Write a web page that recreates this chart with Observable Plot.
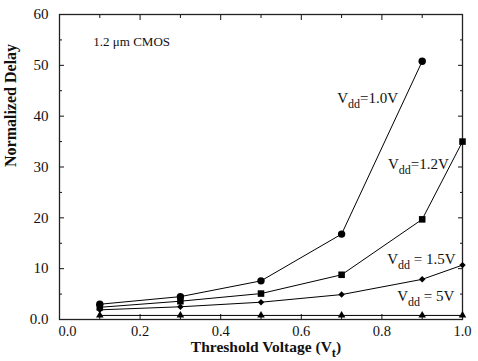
<!DOCTYPE html>
<html>
<head>
<meta charset="utf-8">
<script src="https://cdn.jsdelivr.net/npm/d3@7"></script>
<script src="https://cdn.jsdelivr.net/npm/@observablehq/plot@0.6"></script>
<style>
  html, body { margin: 0; padding: 0; background: white; }
  #chart svg, #chart svg text { font-family: "Liberation Serif", "Times New Roman", "DejaVu Serif", serif !important; }
</style>
</head>
<body>
<div id="chart"></div>
<script>
// Threshold voltage (x) values
const vt = [0.1, 0.3, 0.5, 0.7, 0.9, 1.0];
// Normalized delay per supply voltage
const vdd10 = [3.0, 4.5, 7.6, 16.8, 50.8];          // Vdd = 1.0V (no point at 1.0)
const vdd12 = [2.4, 3.6, 5.1, 8.8, 19.7, 35.0];     // Vdd = 1.2V
const vdd15 = [1.9, 2.5, 3.4, 4.9, 7.9, 10.7];      // Vdd = 1.5V
const vdd5  = [0.8, 0.8, 0.8, 0.8, 0.8, 0.8];       // Vdd = 5V

// Tick values
const xMajor = [0, 0.2, 0.4, 0.6, 0.8, 1.0];
const xMinor = [0.1, 0.3, 0.5, 0.7, 0.9];
const yMajor = [0, 10, 20, 30, 40, 50, 60];
const yMinor = [5, 15, 25, 35, 45, 55];

// Annotations
const seriesLabels = [
  {text: "V_{dd}=1.0V", x: 0.689, y: 42.5},
  {text: "V_{dd}=1.2V", x: 0.815, y: 29.7},
  {text: "V_{dd} = 1.5V", x: 0.813, y: 11.0},
  {text: "V_{dd} = 5V", x: 0.838, y: 3.7}
];
const techLabel = [{text: "1.2 \u03BCm CMOS", x: 0.084, y: 53.9}];

const toRows = (vals) => vals.map((v, i) => ({x: vt[i], y: v}));
const s10 = toRows(vdd10), s12 = toRows(vdd12), s15 = toRows(vdd15), s5 = toRows(vdd5);

const font = "Liberation Serif, Times New Roman, serif";

const chart = Plot.plot({
  width: 478,
  height: 361,
  marginLeft: 59,
  marginRight: 16,
  marginTop: 14,
  marginBottom: 42,
  style: {fontFamily: font, fontSize: "14px", color: "#111", background: "white"},
  x: {domain: [0, 1]},
  y: {domain: [0, 60]},
  marks: [
    // inward ticks on all four sides
    Plot.axisX(xMajor, {anchor: "bottom", tickSize: -5, tickFormat: () => "", label: null}),
    Plot.axisX(xMinor, {anchor: "bottom", tickSize: -3, tickFormat: () => "", label: null}),
    Plot.axisX(xMajor, {anchor: "top", tickSize: -5, tickFormat: () => "", label: null}),
    Plot.axisX(xMinor, {anchor: "top", tickSize: -3, tickFormat: () => "", label: null}),
    Plot.axisY(yMajor, {anchor: "left", tickSize: -5, tickFormat: () => "", label: null}),
    Plot.axisY(yMinor, {anchor: "left", tickSize: -3, tickFormat: () => "", label: null}),
    Plot.axisY(yMajor, {anchor: "right", tickSize: -5, tickFormat: () => "", label: null}),
    Plot.axisY(yMinor, {anchor: "right", tickSize: -3, tickFormat: () => "", label: null}),
    // tick labels
    Plot.axisX(xMajor.filter(d => d > 0), {anchor: "bottom", tickSize: 0, tickPadding: 6, tickFormat: d => d.toFixed(1), label: null, fontSize: 14.5, fontFamily: font}),
    Plot.axisX(xMajor.filter(d => d === 0), {anchor: "bottom", tickSize: 0, tickPadding: 6, dx: 8, tickFormat: d => d.toFixed(1), label: null, fontSize: 14.5, fontFamily: font}),
    Plot.axisY(yMajor, {anchor: "left", tickSize: 0, tickPadding: 11, tickFormat: d => d === 0 ? "0.0" : String(d), label: null, fontSize: 15, fontFamily: font}),
    Plot.frame({stroke: "#222", strokeWidth: 1.3}),
    // series lines
    Plot.line(s10, {x: "x", y: "y", stroke: "black", strokeWidth: 1}),
    Plot.line(s12, {x: "x", y: "y", stroke: "black", strokeWidth: 1}),
    Plot.line(s15, {x: "x", y: "y", stroke: "black", strokeWidth: 1}),
    Plot.line(s5, {x: "x", y: "y", stroke: "black", strokeWidth: 1}),
    // series symbols
    Plot.dot(s5, {x: "x", y: "y", symbol: "triangle", r: 2.8, fill: "black"}),
    Plot.dot(s15, {x: "x", y: "y", symbol: "diamond2", r: 2.9, fill: "black"}),
    Plot.dot(s12, {x: "x", y: "y", symbol: "square", r: 3.7, fill: "black"}),
    Plot.dot(s10, {x: "x", y: "y", symbol: "circle", r: 3.7, fill: "black"}),
    // annotations
    Plot.text(seriesLabels, {x: "x", y: "y", text: "text", textAnchor: "start", lineAnchor: "bottom", fontSize: 15, fontFamily: font, fill: "#111"}),
    Plot.text(techLabel, {x: "x", y: "y", text: "text", textAnchor: "start", lineAnchor: "bottom", fontSize: 13, fontFamily: font, fill: "#111"}),
    // axis titles
    Plot.text(["Normalized Delay"], {text: d => d, frameAnchor: "left", dx: -49, rotate: -90, fontWeight: "bold", fontSize: 16, fontFamily: font, fill: "#111"}),
    Plot.text(["Threshold Voltage (V_{t})"], {text: d => d, frameAnchor: "bottom", dy: 32, dx: 5, lineAnchor: "bottom", fontWeight: "bold", fontSize: 15.5, fontFamily: font, fill: "#111"})
  ]
});

// render subscripts written as _{...}
chart.querySelectorAll("text").forEach(t => {
  const s = t.textContent;
  if (!s.includes("_{")) return;
  const parts = s.split(/(_\{[^}]*\})/);
  while (t.firstChild) t.removeChild(t.firstChild);
  let shifted = false;
  for (const p of parts) {
    if (!p) continue;
    const ts = document.createElementNS("http://www.w3.org/2000/svg", "tspan");
    if (p.startsWith("_{")) {
      ts.textContent = p.slice(2, -1);
      ts.setAttribute("font-size", "0.8em");
      ts.setAttribute("dy", "5");
      shifted = true;
    } else {
      ts.textContent = p;
      if (shifted) { ts.setAttribute("dy", "-5"); shifted = false; }
    }
    t.appendChild(ts);
  }
});

document.getElementById("chart").appendChild(chart);
</script>
</body>
</html>
